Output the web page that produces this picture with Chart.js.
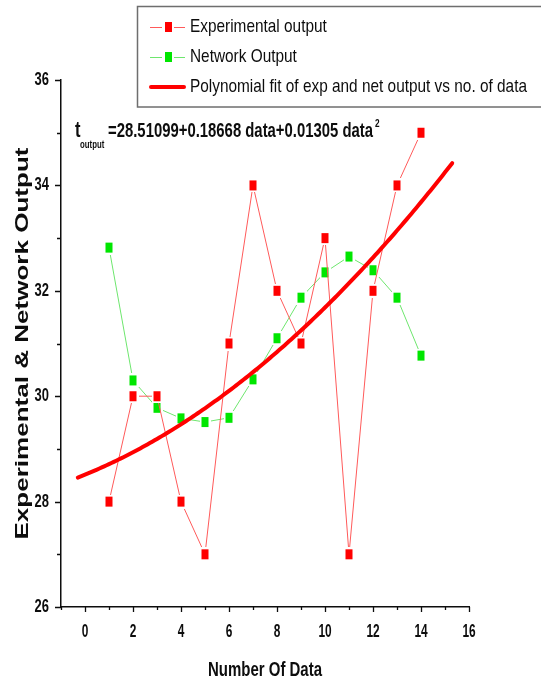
<!DOCTYPE html>
<html>
<head>
<meta charset="utf-8">
<script src="https://cdn.jsdelivr.net/npm/chart.js@4.4.1/dist/chart.umd.min.js"></script>
<style>
  html, body { margin: 0; padding: 0; background: #ffffff; }
  #wrap { width: 541px; height: 682px; position: relative; }
</style>
</head>
<body>
<div id="wrap"><canvas id="chart" width="541" height="682"></canvas></div>
<script>
// Sample numbers (x) and measured values
const dataNumbers = [1, 2, 3, 4, 5, 6, 7, 8, 9, 10, 11, 12, 13, 14];
const experimentalOutput = [28, 30, 30, 28, 27, 31, 34, 32, 31, 33, 27, 32, 34, 35];
const networkOutput = [32.82, 30.30, 29.78, 29.58, 29.51, 29.59, 30.32, 31.10, 31.87, 32.35, 32.65, 32.39, 31.87, 30.77];

// Quadratic fit: t = c0 + c1*data + c2*data^2, drawn over this data range
const fitCoefficients = [28.51099, 0.18668, 0.01305];
const fitRange = [-0.3, 15.3];

// Axis ticks
const xTickLabels = [0, 2, 4, 6, 8, 10, 12, 14, 16];
const yTickLabels = [26, 28, 30, 32, 34, 36];

const seriesNames = ['Experimental output', 'Network Output', 'Polynomial fit of exp and net output vs no. of data'];

const RED = '#ff0000';
const RED_LINE = '#ff5a5a';
const GREEN = '#00e600';
const GREEN_LINE = '#6ee66e';
const INK = '#0d0d0d';
const FONT = '"Liberation Sans", Arial, sans-serif';

function fitValue(x) {
  return fitCoefficients[0] + fitCoefficients[1] * x + fitCoefficients[2] * x * x;
}
const fitPoints = [];
for (let i = 0; i <= 156; i++) {
  const x = fitRange[0] + (fitRange[1] - fitRange[0]) * i / 156;
  fitPoints.push({ x: x, y: fitValue(x) });
}

// Square marker with a white margin so connecting lines stop short of it
function markerImage(color) {
  const c = document.createElement('canvas');
  c.width = 11; c.height = 14;
  const g = c.getContext('2d');
  g.fillStyle = '#ffffff';
  g.fillRect(0, 0, 11, 14);
  g.fillStyle = color;
  g.fillRect(2, 2, 7, 10);
  return c;
}
const redMarker = markerImage(RED);
const greenMarker = markerImage(GREEN);

// Text drawn with horizontal condensing
function drawText(ctx, text, x, y, size, weight, sx, align, baseline) {
  ctx.save();
  ctx.font = weight + ' ' + size + 'px ' + FONT;
  ctx.fillStyle = INK;
  ctx.textAlign = align || 'left';
  ctx.textBaseline = baseline || 'alphabetic';
  ctx.translate(x, y);
  ctx.scale(sx, 1);
  ctx.fillText(text, 0, 0);
  ctx.restore();
}
function textWidth(ctx, text, size, weight) {
  ctx.save();
  ctx.font = weight + ' ' + size + 'px ' + FONT;
  const w = ctx.measureText(text).width;
  ctx.restore();
  return w;
}

const decorations = {
  id: 'decorations',
  afterDraw(chart) {
    const ctx = chart.ctx;
    const xs = chart.scales.x, ys = chart.scales.y;
    const area = chart.chartArea;

    // tick marks: majors every 2, minors every 1
    ctx.save();
    ctx.strokeStyle = INK;
    ctx.lineWidth = 1.3;
    ctx.beginPath();
    for (let v = Math.ceil(xs.min); v <= xs.max; v++) {
      const px = Math.round(xs.getPixelForValue(v)) + 0.5;
      const len = (v % 2 === 0) ? 5 : 3;
      ctx.moveTo(px, area.bottom);
      ctx.lineTo(px, area.bottom + len);
    }
    for (let v = ys.min; v <= ys.max; v++) {
      const py = Math.round(ys.getPixelForValue(v)) + 0.5;
      const len = (v % 2 === 0) ? 6 : 4;
      ctx.moveTo(area.left, py);
      ctx.lineTo(area.left - len, py);
    }
    ctx.stroke();
    ctx.restore();

    // tick labels
    xTickLabels.forEach(v => {
      drawText(ctx, String(v), xs.getPixelForValue(v), 632, 18, 'bold', 0.66, 'center', 'middle');
    });
    yTickLabels.forEach(v => {
      drawText(ctx, String(v), 49, ys.getPixelForValue(v), 18, 'bold', 0.72, 'right', 'middle');
    });

    // axis titles
    const xTitle = 'Number Of Data';
    const xTitleScale = 114 / textWidth(ctx, xTitle, 20, 'bold');
    drawText(ctx, xTitle, (area.left + area.right) / 2, 670, 20, 'bold', xTitleScale, 'center', 'middle');

    const yTitle = 'Experimental & Network Output';
    const yLen = 392 / textWidth(ctx, yTitle, 26, 'bold');
    ctx.save();
    ctx.font = 'bold 26px ' + FONT;
    ctx.fillStyle = INK;
    ctx.textAlign = 'center';
    ctx.textBaseline = 'middle';
    ctx.translate(23, (area.top + area.bottom) / 2);
    ctx.rotate(-Math.PI / 2);
    ctx.scale(yLen, 0.72);
    ctx.fillText(yTitle, 0, 0);
    ctx.restore();

    // fit equation
    const eq = '=' + fitCoefficients[0].toFixed(5) + '+' + fitCoefficients[1].toFixed(5) +
               ' data+' + fitCoefficients[2].toFixed(5) + ' data';
    drawText(ctx, 't', 75, 137, 22, 'bold', 0.75, 'left');
    drawText(ctx, 'output', 80, 148, 10, 'bold', 0.78, 'left');
    const eqScale = 265 / textWidth(ctx, eq, 21, 'bold');
    drawText(ctx, eq, 108, 137, 21, 'bold', eqScale, 'left');
    drawText(ctx, '2', 375, 127, 11, 'bold', 0.75, 'left');

    // legend box
    ctx.save();
    ctx.strokeStyle = '#6e6e6e';
    ctx.lineWidth = 1.5;
    ctx.strokeRect(137.5, 6.5, 430, 100.5);
    ctx.restore();

    const rowsY = [27, 57, 87];
    const legScale = 337 / textWidth(ctx, seriesNames[2], 19, 'normal');
    ctx.save();
    // experimental sample
    ctx.lineWidth = 1;
    ctx.strokeStyle = RED_LINE;
    ctx.beginPath();
    ctx.moveTo(150, rowsY[0] + 0.5); ctx.lineTo(162, rowsY[0] + 0.5);
    ctx.moveTo(174, rowsY[0] + 0.5); ctx.lineTo(185, rowsY[0] + 0.5);
    ctx.stroke();
    ctx.fillStyle = RED;
    ctx.fillRect(165, rowsY[0] - 5, 7, 10);
    // network sample
    ctx.strokeStyle = GREEN_LINE;
    ctx.beginPath();
    ctx.moveTo(150, rowsY[1] + 0.5); ctx.lineTo(162, rowsY[1] + 0.5);
    ctx.moveTo(174, rowsY[1] + 0.5); ctx.lineTo(185, rowsY[1] + 0.5);
    ctx.stroke();
    ctx.fillStyle = GREEN;
    ctx.fillRect(165, rowsY[1] - 5, 7, 10);
    // fit sample
    ctx.strokeStyle = RED;
    ctx.lineWidth = 4;
    ctx.lineCap = 'round';
    ctx.beginPath();
    ctx.moveTo(151, rowsY[2]); ctx.lineTo(184, rowsY[2]);
    ctx.stroke();
    ctx.restore();
    seriesNames.forEach((name, i) => {
      drawText(ctx, name, 190, rowsY[i], 19, 'normal', legScale, 'left', 'middle');
    });
  }
};

new Chart(document.getElementById('chart'), {
  type: 'scatter',
  data: {
    datasets: [
      {
        label: seriesNames[2],
        data: fitPoints,
        showLine: true,
        borderColor: RED,
        borderWidth: 4,
        pointRadius: 0,
        tension: 0,
        borderCapStyle: 'round',
        order: 0
      },
      {
        label: seriesNames[0],
        data: dataNumbers.map((x, i) => ({ x: x, y: experimentalOutput[i] })),
        showLine: true,
        borderColor: RED_LINE,
        borderWidth: 1,
        pointStyle: redMarker,
        order: 1
      },
      {
        label: seriesNames[1],
        data: dataNumbers.map((x, i) => ({ x: x, y: networkOutput[i] })),
        showLine: true,
        borderColor: GREEN_LINE,
        borderWidth: 1,
        pointStyle: greenMarker,
        order: 2
      }
    ]
  },
  options: {
    responsive: false,
    animation: false,
    events: [],
    layout: { padding: { top: 80, right: 72, left: 0, bottom: 0 } },
    plugins: { legend: { display: false }, tooltip: { enabled: false } },
    scales: {
      x: {
        type: 'linear',
        min: -1,
        max: 16,
        grid: { display: false },
        border: { display: true, color: INK, width: 1.5 },
        ticks: { display: false },
        afterFit(scale) { scale.height = 75; }
      },
      y: {
        type: 'linear',
        min: 26,
        max: 36,
        grid: { display: false },
        border: { display: true, color: INK, width: 1.5 },
        ticks: { display: false },
        afterFit(scale) { scale.width = 61; }
      }
    }
  },
  plugins: [decorations]
});
</script>
</body>
</html>
